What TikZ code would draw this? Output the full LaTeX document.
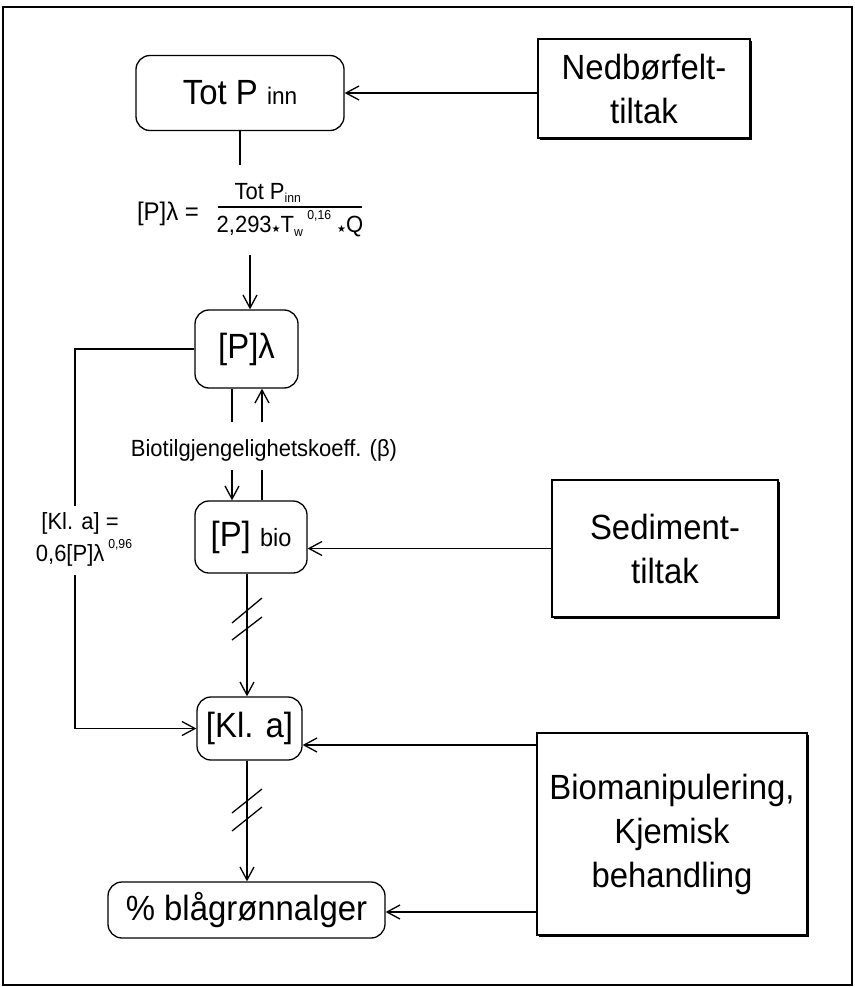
\documentclass[tikz,border=0pt]{standalone}
\usepackage{fontspec}
\setmainfont[FakeStretch=0.94]{Liberation Sans}
\newfontfamily\dejavu{DejaVu Sans}
\usetikzlibrary{arrows.meta,shadows}
\tikzset{
  line/.style={line width=1.3pt},
  arr/.style={line width=1.3pt, -{Straight Barb[length=13pt,width=14pt,line width=1.3pt]}},
  rbox/.style={draw, line width=1.3pt, rounded corners=14pt, align=center, inner sep=0pt},
  sbox/.style={draw, line width=1.3pt, fill=white, align=center, inner sep=0pt,
    drop shadow={shadow xshift=2pt, shadow yshift=-2pt, fill=black, opacity=1}},
  big/.style={font=\fontsize{35}{44}\selectfont},
  small/.style={font=\fontsize{23.4}{28}\selectfont, inner sep=0pt},
}
\newcommand{\mystar}{{\dejavu\fontsize{10}{10}\selectfont ★}}
\newcommand{\tinysup}[1]{\raisebox{0.55em}{\fontsize{13}{13}\selectfont #1}}
\begin{document}
\begin{tikzpicture}[x=1pt,y=-1pt]
\useasboundingbox (0,0) rectangle (854,987);
% frame
\coordinate (fTL) at (3,7);
\coordinate (fBR) at (852,985);
\draw[line width=1.4pt] (fTL) rectangle (fBR);

% boxes
\node[rbox, big, minimum width=208pt, minimum height=75pt] (totp) at (240,93) {Tot P {\fontsize{24}{26}\selectfont inn}};
\node[sbox, big, minimum width=212pt, minimum height=99pt] (ned) at (644,88.5) {Nedbørfelt-\\tiltak};
\node[rbox, big, minimum width=103pt, minimum height=78pt] (plam) at (246.5,349) {[P]λ};
\node[rbox, big, minimum width=112pt, minimum height=72pt] (pbio) at (251,537) {[P] {\fontsize{25}{26}\selectfont bio}};
\node[sbox, big, minimum width=226pt, minimum height=137pt] (sed) at (665,548.5) {Sediment-\\tiltak};
\node[rbox, big, minimum width=105pt, minimum height=63pt] (kla) at (249.5,728.5) {[Kl. a]};
\node[sbox, big, minimum width=270pt, minimum height=202pt] (bio) at (672,834) {Biomanipulering,\\Kjemisk\\behandling};
\node[rbox, big, minimum width=277pt, minimum height=56pt] (blag) at (246.5,910) {\% blågrønnalger};

% formula
\node[small, font=\fontsize{25.5}{28}\selectfont] (lhs) at (168,214) {[P]λ =};
\node[small] (num) at (268,193) {Tot P\textsubscript{\fontsize{13}{13}\selectfont inn}};
\node[small] (den) at (290,224) {2,293\mystar T\textsubscript{\fontsize{13}{13}\selectfont w}\,\tinysup{0,16} \mystar Q};
\coordinate (barL) at (218,207);
\coordinate (barR) at (362,207);
\draw[line] (barL) -- (barR);

% Kl a label
\node[small] (kll1) at (80,523) {[Kl. a] =};
\node[small] (kll2) at (84,553) {0,6[P]λ\,\tinysup{0,96}};

% biotil label
\node[small] (biot) at (264,450) {Biotilgjengelighetskoeff. (β)};

% connectors
\draw[arr] (ned.west |- totp.east) -- (totp.east);
\coordinate (t1) at (240,165);
\draw[line] (totp.south) -- (t1);
\coordinate (t2) at (250,255);
\draw[arr] (t2) -- (t2 |- plam.north);

\coordinate (l1) at (75,349);
\coordinate (l2) at (75,506);
\coordinate (l3) at (75,575);
\coordinate (l4) at (75,728.5);
\draw[line] (plam.west |- l1) -- (l1) -- (l2);
\draw[arr] (l3) -- (l4) -- (kla.west);

\coordinate (b1) at (232,422);
\coordinate (b2) at (262,422);
\coordinate (b3) at (232,470);
\coordinate (b4) at (262,470);
\draw[line] (b1 |- plam.south) -- (b1);
\draw[arr] (b2) -- (b2 |- plam.south);
\draw[arr] (b3) -- (b3 |- pbio.north);
\draw[line] (b4) -- (b4 |- pbio.north);

\draw[arr] (sed.west) -- (pbio.east |- sed.west);

\coordinate (v1) at (247,573);
\draw[arr] (v1 |- pbio.south) -- (v1 |- kla.north);
\draw[line] (232,623) -- (262,598) (232,640) -- (262,617);

\coordinate (v2) at (247,760);
\draw[arr] (v2 |- kla.south) -- (v2 |- blag.north);
\draw[line] (232,813) -- (262,789) (232,831) -- (262,807);

\coordinate (h1) at (0,745);
\coordinate (h2) at (0,912);
\draw[arr] (bio.north west |- h1) -- (kla.east |- h1);
\draw[arr] (bio.north west |- h2) -- (blag.east |- h2);
\end{tikzpicture}
\end{document}
